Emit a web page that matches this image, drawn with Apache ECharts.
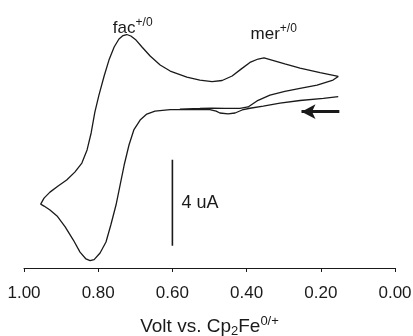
<!DOCTYPE html>
<html><head><meta charset="utf-8">
<script src="https://cdn.jsdelivr.net/npm/echarts@6/dist/echarts.min.js"></script>
<style>html,body{margin:0;padding:0;background:#fff}#c{width:413px;height:336px}</style>
</head><body><div id="c"></div>
<script>
// Cyclic voltammogram trace (V vs Cp2Fe0/+, current in uA, cathodic up)
const voltage = [0.153,0.193,0.256,0.310,0.355,0.391,0.412,0.431,0.450,0.472,0.482,0.499,0.553,0.606,0.647,0.669,0.687,0.704,0.717,0.730,0.741,0.752,0.766,0.779,0.795,0.811,0.822,0.833,0.849,0.867,0.889,0.911,0.930,0.946,0.955,0.946,0.930,0.908,0.885,0.863,0.844,0.830,0.819,0.809,0.798,0.784,0.771,0.757,0.744,0.733,0.723,0.712,0.698,0.682,0.660,0.633,0.606,0.561,0.526,0.493,0.466,0.439,0.415,0.391,0.369,0.353,0.332,0.297,0.256,0.202,0.153,0.167,0.210,0.256,0.297,0.337,0.372,0.396,0.418,0.458,0.493,0.526,0.580];
const current = [0.53,0.45,0.35,0.23,0.09,-0.01,-0.09,-0.23,-0.27,-0.23,-0.14,-0.07,-0.07,-0.07,-0.14,-0.28,-0.56,-1.02,-1.72,-2.65,-3.58,-4.51,-5.44,-6.23,-6.74,-7.05,-7.10,-7.02,-6.70,-6.14,-5.53,-5.02,-4.74,-4.56,-4.47,-4.19,-3.91,-3.63,-3.35,-2.98,-2.56,-1.95,-1.16,-0.19,0.60,1.49,2.23,2.84,3.21,3.37,3.42,3.35,3.16,2.84,2.42,2.00,1.72,1.44,1.30,1.23,1.28,1.49,1.81,2.12,2.28,2.33,2.23,2.05,1.86,1.65,1.47,1.30,1.07,0.91,0.77,0.60,0.33,0.05,-0.02,-0.02,0.00,-0.02,-0.05];
const xTicks = [1.00,0.80,0.60,0.40,0.20,0.00];
// Scale bar (4 uA) at 0.60 V
const scaleBarV = [0.60,0.60];
const scaleBarI = [-2.4,-6.4];
// Scan direction arrow
const arrowV = [0.150,0.252];
const arrowI = [-0.17,-0.17];
// Peak labels
const labelNames = ['fac','mer'];
const labelSup = ['+/0','+/0'];
const labelV = [0.707,0.327];
const labelI = [3.72,3.45];

const chart = echarts.init(document.getElementById('c'), null, {renderer:'canvas'});
const FONT = 'Liberation Sans, Arial, sans-serif';
const ink = '#1a1a1a';
chart.setOption({
  animation:false,
  backgroundColor:'#fff',
  grid:{left:24,right:18,top:10,bottom:68,containLabel:false,outerBoundsMode:'none'},
  xAxis:{type:'value',min:0,max:1,interval:0.2,inverse:true,
    axisLine:{onZero:false,lineStyle:{color:ink,width:1}},
    axisTick:{length:4,lineStyle:{color:ink}},
    splitLine:{show:false},
    axisLabel:{margin:17,fontSize:17,fontFamily:FONT,color:ink,formatter:v=>v.toFixed(2),showMinLabel:true,showMaxLabel:true},
    name:'{n|Volt vs. Cp}{sub|2}{n|Fe}{sup|0/+}',nameLocation:'middle',nameGap:47,
    nameTextStyle:{fontFamily:FONT,color:ink,rich:{
      n:{fontSize:19,fontFamily:FONT,color:ink},
      sub:{fontSize:13,fontFamily:FONT,color:ink,padding:[9,0,0,0]},
      sup:{fontSize:13,fontFamily:FONT,color:ink,padding:[0,0,10,0]}}}
  },
  yAxis:{type:'value',min:-7.44,max:4.56,show:false},
  series:[
    {type:'line',data:voltage.map((v,i)=>[v,current[i]]),showSymbol:false,symbol:'none',
     lineStyle:{color:ink,width:1.3},z:3},
    {type:'line',data:scaleBarV.map((v,i)=>[v,scaleBarI[i]]),showSymbol:false,symbol:'none',
     lineStyle:{color:ink,width:1.6}},
    {type:'scatter',symbolSize:0,itemStyle:{opacity:1},data:[[0.60,(scaleBarI[0]+scaleBarI[1])/2]],
     label:{show:true,position:'right',distance:9,formatter:'4 uA',fontSize:18,fontFamily:FONT,color:ink}},
    {type:'line',data:[],markLine:{silent:true,symbol:['none','arrow'],symbolSize:[11,14],
      lineStyle:{color:ink,width:3,type:'solid'},label:{show:false},
      data:[[{coord:[arrowV[0],arrowI[0]]},{coord:[arrowV[1],arrowI[1]]}]]}},
    {type:'scatter',symbolSize:0,itemStyle:{opacity:1},
     data:labelNames.map((n,i)=>({value:[labelV[i],labelI[i]],name:n})),
     label:{show:true,position:'inside',fontFamily:FONT,color:ink,
       formatter:p=>'{b|'+labelNames[p.dataIndex]+'}{s|'+labelSup[p.dataIndex]+'}',
       rich:{b:{fontSize:17,fontFamily:FONT,color:ink},s:{fontSize:12,fontFamily:FONT,color:ink,padding:[0,0,10,0]}}}}
  ]
});
</script></body></html>
